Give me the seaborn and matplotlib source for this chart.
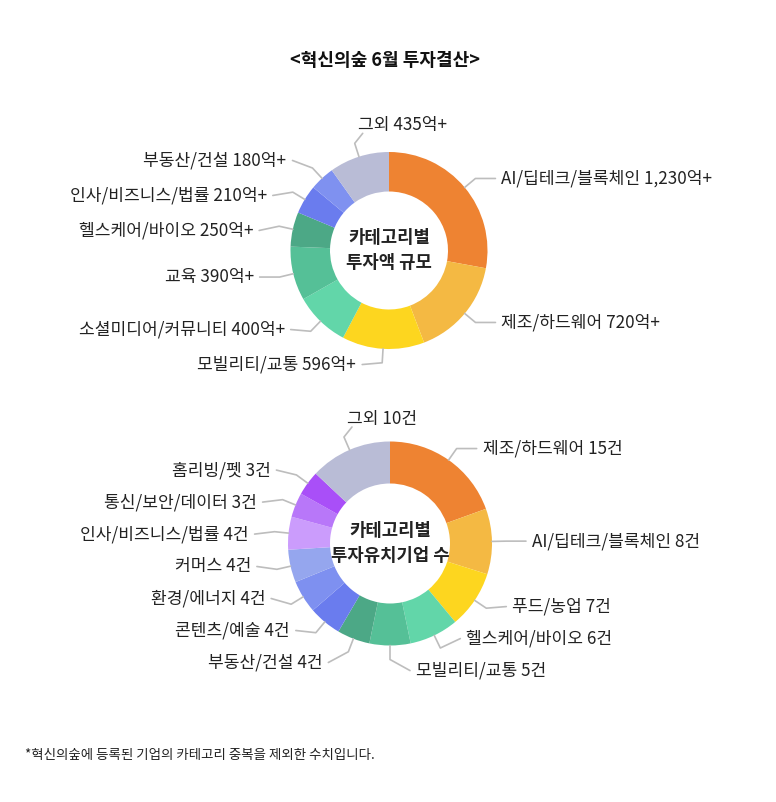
import numpy as np
import matplotlib
matplotlib.use("Agg")
import matplotlib.pyplot as plt
import seaborn as sns

# 데이터
top_names = ["AI/딥테크/블록체인", "제조/하드웨어", "모빌리티/교통", "소셜미디어/커뮤니티",
             "교육", "헬스케어/바이오", "인사/비즈니스/법률", "부동산/건설", "그외"]
top_values = [1230, 720, 596, 400, 390, 250, 210, 180, 435]
top_colors = ["#EE8332", "#F4B943", "#FDD61F", "#62D6A9", "#55C097", "#4CA886",
              "#6A7CEE", "#7F91F0", "#B9BCD6"]

bottom_names = ["제조/하드웨어", "AI/딥테크/블록체인", "푸드/농업", "헬스케어/바이오",
                "모빌리티/교통", "부동산/건설", "콘텐츠/예술", "환경/에너지", "커머스",
                "인사/비즈니스/법률", "통신/보안/데이터", "홈리빙/펫", "그외"]
bottom_counts = [15, 8, 7, 6, 5, 4, 4, 4, 4, 4, 3, 3, 10]
bottom_colors = ["#EE8332", "#F4B943", "#FDD61F", "#62D6A9", "#55C097", "#4CA886",
                 "#6A7CEE", "#7E90F0", "#95A6EE", "#CB9CFC", "#B877F9", "#A94FF8", "#B9BCD6"]

title = "<혁신의숲 6월 투자결산>"
top_center_text = "카테고리별\n투자액 규모"
bottom_center_text = "카테고리별\n투자유치기업 수"
footnote = "*혁신의숲에 등록된 기업의 카테고리 중복을 제외한 수치입니다."

sns.set_theme(style="white")
plt.rcParams['font.family'] = ['Noto Sans CJK KR', 'DejaVu Sans']

W, H = 776, 802
fig = plt.figure(figsize=(W / 100, H / 100), dpi=100)
ax = fig.add_axes([0, 0, 1, 1])

LINE_C = "#BDBDBD"
TEXT_C = "#222222"
LABEL_FS = 12.3


def spread(ys, gap):
    # 라벨이 겹치지 않도록 위아래로 벌리기
    order = np.argsort(ys)
    groups = [[i] for i in order]
    changed = True
    pos = {}
    while changed:
        changed = False
        for g in groups:
            m = np.mean([ys[i] for i in g])
            start = m - gap * (len(g) - 1) / 2
            for k, i in enumerate(g):
                pos[i] = start + k * gap
        for j in range(len(groups) - 1):
            a, b = groups[j], groups[j + 1]
            if pos[b[0]] - pos[a[-1]] < gap - 0.01:
                groups[j] = a + b
                del groups[j + 1]
                changed = True
                break
    return pos


def donut(cx, cy, r_out, width, values, names, colors, fmt, gap, center_text):
    ax.pie(values, colors=colors, startangle=-90, counterclock=True,
           center=(cx, cy), radius=r_out, frame=True,
           wedgeprops=dict(width=width, linewidth=0))
    ax.text(cx, cy, center_text, ha="center", va="center", fontsize=12.8,
            fontweight="bold", color=TEXT_C, linespacing=1.45)

    vals = np.array(values, dtype=float)
    cum = np.cumsum(vals) / vals.sum() * 360
    mids = cum - vals / vals.sum() * 360 / 2
    L1, L2 = 14, 20
    info = []
    for i, a in enumerate(mids):
        s, c = np.sin(np.radians(a)), np.cos(np.radians(a))
        p0 = (cx + r_out * s, cy - r_out * c)
        p1 = (cx + (r_out + L1) * s, cy - (r_out + L1) * c)
        if a > 335 or a < 25:
            side = "top"
        elif s >= -1e-9:
            side = "right"
        else:
            side = "left"
        info.append((p0, p1, side))

    for side in ("left", "right"):
        idx = [i for i, d in enumerate(info) if d[2] == side]
        ys = {i: info[i][1][1] for i in idx}
        keys = list(ys.keys())
        pos = spread([ys[k] for k in keys], gap)
        for n, k in enumerate(keys):
            p0, p1, _ = info[k]
            ly = pos[n]
            sign = 1 if side == "right" else -1
            p2 = (p1[0] + sign * L2, ly)
            ax.plot([p0[0], p1[0], p2[0]], [p0[1], p1[1], p2[1]],
                    color=LINE_C, lw=1.2, solid_capstyle="round")
            ax.text(p2[0] + sign * 6, ly, fmt(names[k], values[k]),
                    ha="left" if side == "right" else "right", va="center",
                    fontsize=LABEL_FS, color=TEXT_C)

    for i, (p0, p1, side) in enumerate(info):
        if side != "top":
            continue
        p2 = (p1[0] + 8, p1[1] - 10)
        ax.plot([p0[0], p1[0], p2[0]], [p0[1], p1[1], p2[1]],
                color=LINE_C, lw=1.2, solid_capstyle="round")
        ax.text(p2[0] - 5, p2[1] - 8, fmt(names[i], values[i]),
                ha="left", va="center", fontsize=LABEL_FS, color=TEXT_C)


donut(389, 250.5, 98.5, 39.5, top_values, top_names, top_colors,
      lambda n, v: f"{n} {v:,}억+", 35, top_center_text)
donut(390, 543.5, 102, 42, bottom_counts, bottom_names, bottom_colors,
      lambda n, v: f"{n} {v}건", 32, bottom_center_text)

ax.text(385, 60, title, ha="center", va="center", fontsize=13,
        fontweight="bold", color="#111111")
ax.text(25, 755, footnote, ha="left", va="center", fontsize=9.7, color=TEXT_C)

ax.set_xlim(0, W)
ax.set_ylim(H, 0)
ax.set_aspect("auto")
ax.axis("off")

fig.savefig("out.png", dpi=100, facecolor="white")
